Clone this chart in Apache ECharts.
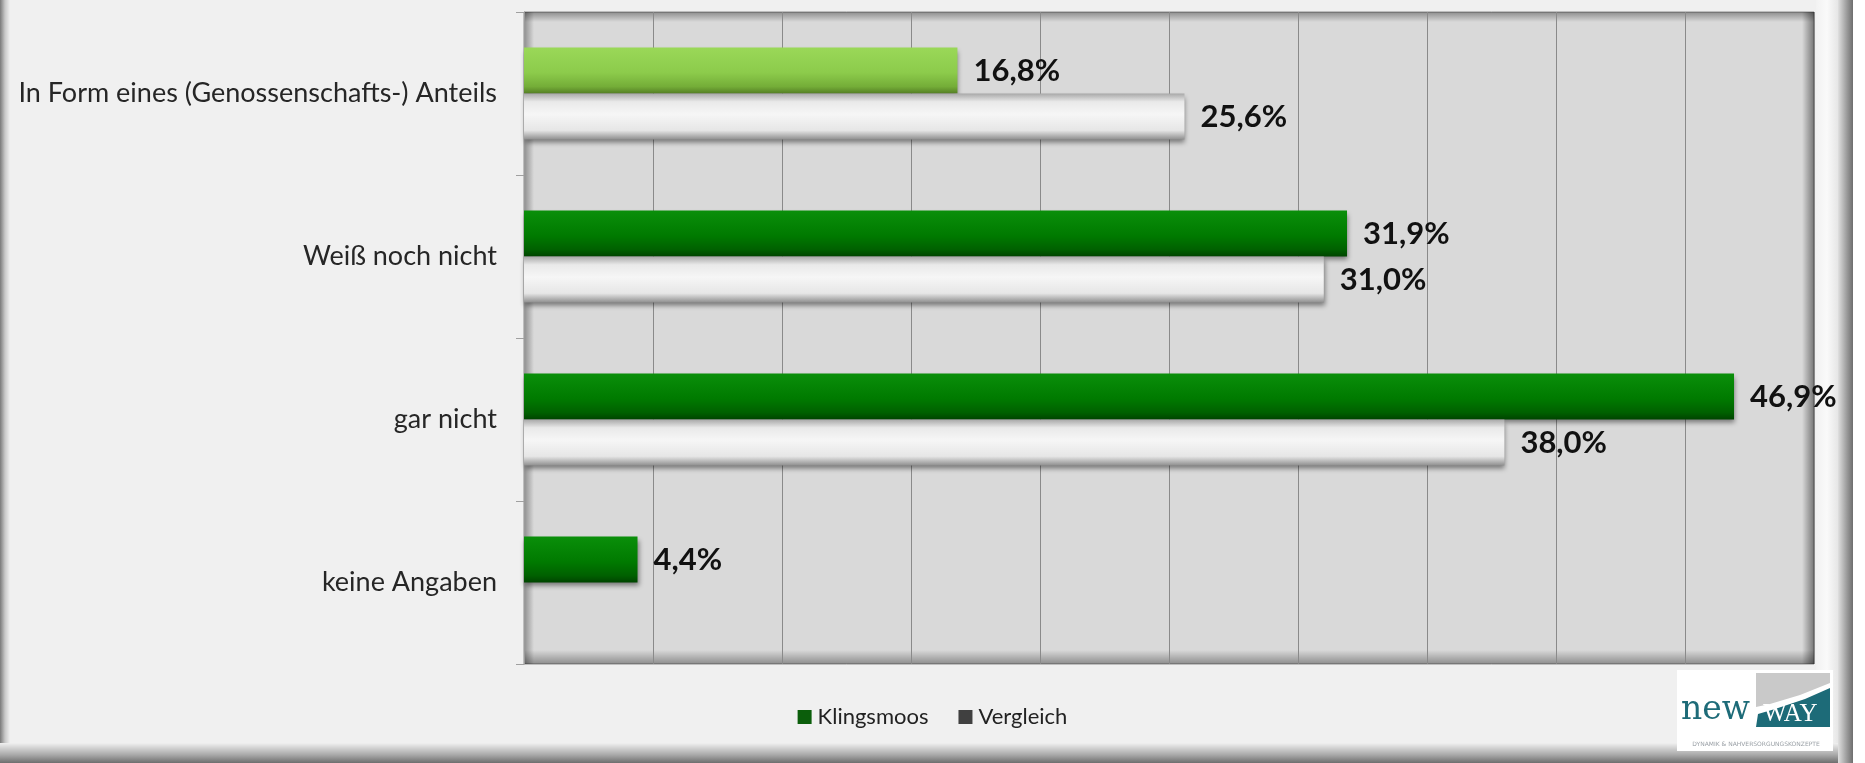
<!DOCTYPE html>
<html>
<head>
<meta charset="utf-8">
<script src="https://cdn.jsdelivr.net/npm/echarts@6/dist/echarts.min.js"></script>
<style>
html,body{margin:0;padding:0;background:#f0f0f0;}
#chart{width:1865px;height:763px;}
</style>
</head>
<body>
<div id="chart"></div>
<script>
// ---- data ----
const categories = ['In Form eines (Genossenschafts-) Anteils', 'Weiß noch nicht', 'gar nicht', 'keine Angaben'];
const seriesNames = ['Klingsmoos', 'Vergleich'];
const klingsmoos = [16.8, 31.9, 46.9, 4.4];
const vergleich = [25.6, 31.0, 38.0, null];
const axisMin = 0;
const axisMax = 50;
const axisInterval = 5;

// ---- styles ----
const FONT = 'Lato';
const G = { left: 524, top: 12, width: 1290, height: 652 };

function vgrad(stops) {
  return new echarts.graphic.LinearGradient(0, 0, 0, 1, stops.map(s => ({ offset: s[0], color: s[1] })));
}
function hgrad(stops) {
  return new echarts.graphic.LinearGradient(0, 0, 1, 0, stops.map(s => ({ offset: s[0], color: s[1] })));
}
const darkGreen = vgrad([[0, '#0a8f0a'], [0.55, '#007a00'], [0.85, '#006000'], [1, '#004400']]);
const lightGreen = vgrad([[0, '#9ad858'], [0.55, '#8ccb4b'], [0.85, '#74ad38'], [1, '#557f25']]);
const whiteBar = vgrad([[0, '#a8a8a8'], [0.18, '#e9e9e9'], [0.45, '#f6f6f6'], [0.8, '#e6e6e6'], [1, '#8f8f8f']]);

const fmt = v => v.toFixed(1).replace('.', ',') + '%';
const labelStyle = {
  show: true, position: 'right', distance: 16,
  fontFamily: FONT, fontWeight: 'bold', fontSize: 31, color: '#111',
  formatter: p => fmt(p.value)
};
const shadow = { shadowColor: 'rgba(0,0,0,0.45)', shadowBlur: 5, shadowOffsetX: 1, shadowOffsetY: 3 };

const kData = klingsmoos.map((v, i) => ({
  value: v,
  itemStyle: Object.assign({ color: i === 0 ? lightGreen : darkGreen }, shadow)
}));
const vData = vergleich.map(v => v == null ? '-' : ({
  value: v,
  itemStyle: Object.assign({ color: whiteBar }, shadow)
}));

const chart = echarts.init(document.getElementById('chart'), null, { renderer: 'canvas' });

const graphics = [
  // plot background
  { type: 'rect', z: -10, shape: { x: G.left, y: G.top, width: G.width, height: G.height }, style: { fill: '#d9d9d9', stroke: '#8c8c8c', lineWidth: 1 } },
  { type: 'rect', z: -9, shape: { x: G.left, y: G.top, width: G.width, height: 10 }, style: { fill: vgrad([[0, 'rgba(0,0,0,0.35)'], [1, 'rgba(0,0,0,0)']]) } },
  { type: 'rect', z: -9, shape: { x: G.left, y: G.top, width: 10, height: G.height }, style: { fill: hgrad([[0, 'rgba(0,0,0,0.35)'], [1, 'rgba(0,0,0,0)']]) } },
  { type: 'rect', z: -9, shape: { x: G.left, y: G.top + G.height - 14, width: G.width, height: 14 }, style: { fill: vgrad([[0, 'rgba(0,0,0,0)'], [1, 'rgba(0,0,0,0.35)']]) } },
  { type: 'rect', z: -9, shape: { x: G.left + G.width - 12, y: G.top, width: 12, height: G.height }, style: { fill: hgrad([[0, 'rgba(0,0,0,0)'], [1, 'rgba(0,0,0,0.45)']]) } },
  // outer frame
  { type: 'rect', z: -20, shape: { x: 0, y: 0, width: 10, height: 763 }, style: { fill: hgrad([[0, '#7a7a7a'], [0.5, '#c8c8c8'], [1, '#f0f0f0']]) } },
  { type: 'rect', z: -19, shape: { x: 0, y: 743, width: 1853, height: 20 }, style: { fill: vgrad([[0, '#f0f0f0'], [0.6, '#a8a8a8'], [1, '#6e6e6e']]) } },
  { type: 'rect', z: -20, shape: { x: 1816, y: 0, width: 22, height: 763 }, style: { fill: hgrad([[0, '#f2f2f2'], [0.5, '#fafafa'], [1, '#e6e6e6']]) } },
  { type: 'rect', z: -19, shape: { x: 1838, y: 0, width: 15, height: 763 }, style: { fill: hgrad([[0, '#e0e0e0'], [0.6, '#9a9a9a'], [1, '#6e6e6e']]) } },
  { type: 'rect', z: -19, shape: { x: 1853, y: 0, width: 12, height: 763 }, style: { fill: '#ffffff' } },
  // logo
  { type: 'rect', z: 5, shape: { x: 1677, y: 670, width: 156, height: 81 }, style: { fill: '#ffffff' } },
  { type: 'polygon', z: 6, shape: { points: [[1756, 673], [1830, 673], [1830, 683], [1800, 695], [1770, 704], [1756, 707]] }, style: { fill: '#c9c9c9' } },
  { type: 'polygon', z: 6, shape: { points: [[1756, 727], [1758, 714], [1775, 709], [1805, 699], [1830, 688], [1830, 727]] }, style: { fill: '#1d6b78' } },
  { type: 'text', z: 7, style: { x: 1681, y: 727, text: 'new', fontFamily: 'DejaVu Serif', fontSize: 33, fill: '#1d6b78', verticalAlign: 'bottom' } },
  { type: 'text', z: 7, style: { x: 1763, y: 727, text: 'WAY', fontFamily: 'Liberation Serif', fontSize: 25, fill: '#ffffff', verticalAlign: 'bottom' } },
  { type: 'text', z: 7, style: { x: 1756, y: 744, text: 'DYNAMIK & NAHVERSORGUNGSKONZEPTE', fontFamily: 'DejaVu Sans', fontSize: 6, fill: '#9aa0a6', align: 'center', verticalAlign: 'middle' } }
];

chart.setOption({
  backgroundColor: '#f0f0f0',
  animation: false,
  textStyle: { fontFamily: FONT },
  grid: { left: G.left, top: G.top, width: G.width, height: G.height, containLabel: false },
  legend: {
    data: seriesNames,
    bottom: 30, left: 'center',
    itemWidth: 14, itemHeight: 14, itemGap: 30,
    icon: 'rect',
    textStyle: { fontFamily: FONT, fontSize: 22, color: '#222', padding: [0, 0, 0, 1] }
  },
  xAxis: {
    type: 'value', min: axisMin, max: axisMax, interval: axisInterval,
    axisLabel: { show: false }, axisLine: { show: false }, axisTick: { show: false },
    splitLine: { show: true, lineStyle: { color: '#8a8a8a', width: 1 } }
  },
  yAxis: {
    type: 'category', data: categories, inverse: true,
    axisLine: { show: true, lineStyle: { color: '#9a9a9a' } },
    axisTick: { show: true, inside: false, length: 8, lineStyle: { color: '#a0a0a0' } },
    axisLabel: { fontFamily: FONT, fontSize: 27, color: '#262626', margin: 27 }
  },
  series: [
    { name: seriesNames[0], type: 'bar', data: kData, barWidth: 46, barGap: '0%', itemStyle: { color: '#0b5e0b' }, label: labelStyle },
    { name: seriesNames[1], type: 'bar', data: vData, barWidth: 46, barGap: '0%', itemStyle: { color: '#404040' }, label: labelStyle }
  ],
  graphic: graphics
});
</script>
</body>
</html>
